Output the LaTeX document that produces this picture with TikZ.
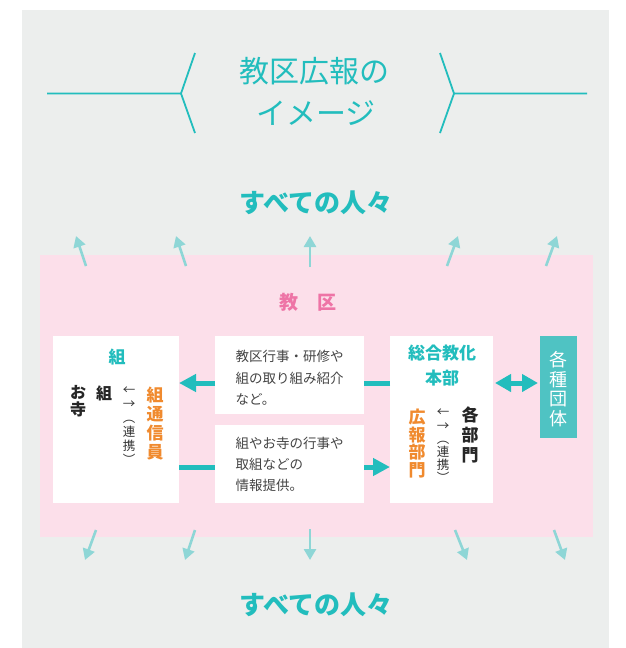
\documentclass[tikz,border=0pt]{standalone}
\usepackage{fontspec}
\setmainfont{Noto Sans CJK JP}
\usetikzlibrary{arrows.meta}
\definecolor{bggray}{HTML}{ECEEED}
\definecolor{bgpink}{HTML}{FCDFEA}
\definecolor{tealA}{HTML}{22BDBD}
\definecolor{tealL}{HTML}{8ED6D6}
\definecolor{pinktxt}{HTML}{EE74A6}
\definecolor{orng}{HTML}{F08A2E}
\definecolor{boxteal}{HTML}{4FC3C3}
\definecolor{txtgray}{HTML}{444444}
\newcommand{\fsz}[2]{\fontsize{#1}{#2}\selectfont}
\begin{document}
\begin{tikzpicture}[x=1pt,y=-1pt,
  every node/.style={inner sep=0pt, outer sep=0pt},
  whitebox/.style={fill=white, anchor=north west},
  titletxt/.style={text=tealA, font=\fsz{30}{34}},
  peopletxt/.style={text=tealA, font=\fsz{26}{30}\bfseries},
  bodytxt/.style={text=txtgray, font=\fsz{13.5}{21.5}, align=left},
  headtxt/.style={text=tealA, font=\fsz{17}{25}\bfseries, align=center},
  vorange/.style={text=orng, font=\fsz{17}{18.5}\bfseries, align=center},
  vblack/.style={text=black!85, font=\fsz{16}{19}\bfseries, align=center},
  vsmall/.style={text=black!80, font=\fsz{12.5}{14}, align=center},
  tline/.style={draw=tealA, line width=1.8pt},
  bigarrow/.style={draw=tealA, line width=5pt, -{Triangle[length=17pt,width=17pt]}},
  bigline/.style={draw=tealA, line width=5pt},
  dblarrow/.style={draw=tealA, line width=5pt, {Triangle[length=16pt,width=17pt]}-{Triangle[length=16pt,width=17pt]}},
  ray/.style={draw=tealL, line width=2.6pt, -{Triangle[length=11pt,width=12pt]}}
]
\useasboundingbox (0,0) rectangle (626,648);
\fill[white] (0,0) rectangle (626,648);
\fill[bggray] (22,10) rectangle (609,648);
\fill[bgpink] (40,255) rectangle (593,537);

% title
\draw[tline] (47,93.5) -- (181,93.5) -- (195,53);
\draw[tline] (181,93.5) -- (195,133);
\draw[tline] (587,93.5) -- (454,93.5) -- (440,53);
\draw[tline] (454,93.5) -- (440,133);
\node[titletxt] (t1) at (314,71) {教区広報の};
\node[titletxt] (t2) at (316,113) {イメージ};

\node[peopletxt] (ptop) at (316,203) {すべての人々};
\node[peopletxt] (pbot) at (316,605) {すべての人々};

\node[text=pinktxt, font=\fsz{19}{22}\bfseries] (kyoku) at (308,302) {教　区};

% boxes
\node[whitebox, minimum width=126pt, minimum height=167pt] (kumi) at (53,336) {};
\node[whitebox, minimum width=149pt, minimum height=78pt] (msgA) at (215,336) {};
\node[whitebox, minimum width=149pt, minimum height=78pt] (msgB) at (215,425) {};
\node[whitebox, minimum width=103pt, minimum height=167pt] (hq) at (390,336) {};
\node[fill=boxteal, anchor=north west, minimum width=37pt, minimum height=102pt] (dan) at (540,336) {};

% box texts
\node[bodytxt] (ta) at (289.5,378) {教区行事・研修や\\組の取り組み紹介\\など。};
\node[bodytxt, font=\fsz{13.5}{21}] (tb) at (289.5,464) {組やお寺の行事や\\取組などの\\情報提供。};

\node[headtxt] (kumiH) at (117,357) {組};
\node[vorange, font=\fsz{17}{19}\bfseries] (kumiR) at (155,423.5) {組\\通\\信\\員};
\node[vsmall] (kumiRen) at (129,426) {←\\→\\︵\\連\\携\\︶};
\node[vblack] (kumiK) at (104,393) {組};
\node[vblack, font=\fsz{16}{17}\bfseries] (kumiT) at (78,401.5) {お\\寺};

\node[headtxt] (hqH) at (442,365.5) {総合教化\\本部};
\node[vorange, font=\fsz{17}{17.8}\bfseries] (hqR) at (417,443.5) {広\\報\\部\\門};
\node[vsmall, font=\fsz{12.5}{13.2}] (hqRen) at (443,446) {←\\→\\︵\\連\\携\\︶};
\node[vblack, font=\fsz{17}{20}\bfseries] (hqB) at (470,435) {各\\部\\門};

\node[text=white, font=\fsz{18}{19.5}, align=center] (danT) at (558.5,389) {各\\種\\団\\体};

% connectors
\coordinate (rowA) at (0,383);
\coordinate (rowB) at (0,467);
\draw[bigline] (hq.west |- rowA) -- (msgA.east |- rowA);
\draw[bigarrow] (msgA.west |- rowA) -- (kumi.east |- rowA);
\draw[bigline] (kumi.east |- rowB) -- (msgB.west |- rowB);
\draw[bigarrow] (msgB.east |- rowB) -- (hq.west |- rowB);
\draw[dblarrow] ([xshift=2pt]hq.east |- rowA) -- ([xshift=-2pt]dan.west |- rowA);

% rays up
\coordinate (ua1) at (86,266); \coordinate (ub1) at (76,236);
\coordinate (ua2) at (186,266); \coordinate (ub2) at (176,236);
\coordinate (ua3) at (310,267); \coordinate (ub3) at (310,236);
\coordinate (ua4) at (447,266); \coordinate (ub4) at (458,236);
\coordinate (ua5) at (546,266); \coordinate (ub5) at (557,236);
\foreach \i in {1,...,5} \draw[ray] (ua\i) -- (ub\i);
% rays down
\coordinate (da1) at (96,530); \coordinate (db1) at (85,560);
\coordinate (da2) at (195,530); \coordinate (db2) at (185,560);
\coordinate (da3) at (310,529); \coordinate (db3) at (310,560);
\coordinate (da4) at (455,530); \coordinate (db4) at (467,560);
\coordinate (da5) at (554,530); \coordinate (db5) at (565,560);
\foreach \i in {1,...,5} \draw[ray] (da\i) -- (db\i);
\end{tikzpicture}
\end{document}
